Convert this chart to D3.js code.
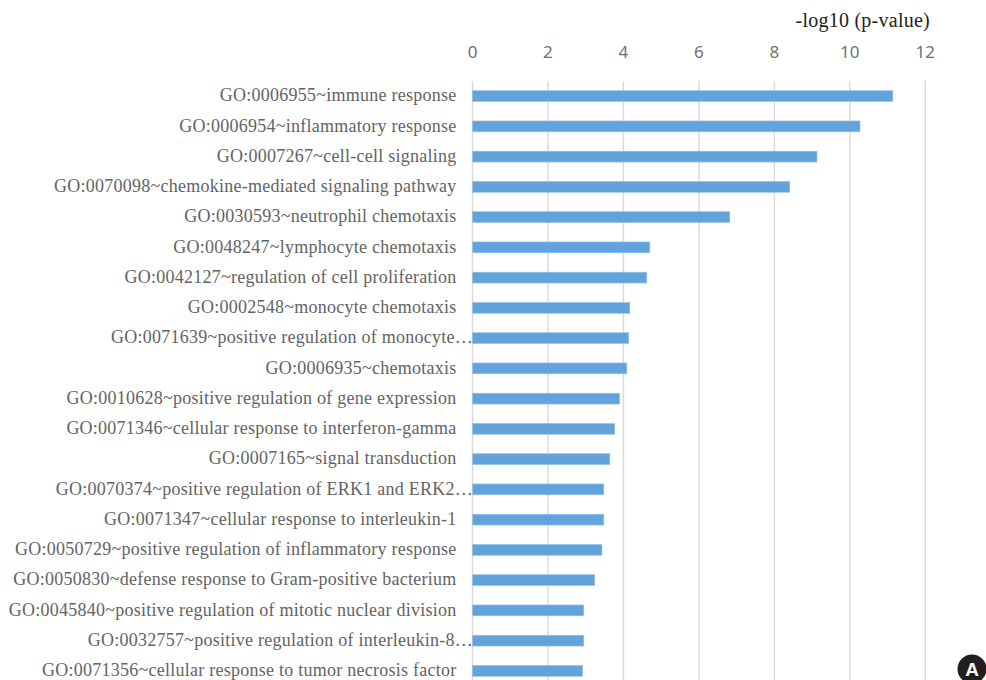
<!DOCTYPE html>
<html><head><meta charset="utf-8">
<script src="https://cdn.jsdelivr.net/npm/d3@7"></script>
<style>html,body{margin:0;padding:0;background:#fff;overflow:hidden}svg{display:block}</style>
</head><body><svg id="c" width="986" height="680"></svg>
<script>
const categories = [
"GO:0006955~immune response","GO:0006954~inflammatory response","GO:0007267~cell-cell signaling",
"GO:0070098~chemokine-mediated signaling pathway","GO:0030593~neutrophil chemotaxis","GO:0048247~lymphocyte chemotaxis",
"GO:0042127~regulation of cell proliferation","GO:0002548~monocyte chemotaxis","GO:0071639~positive regulation of monocyte…",
"GO:0006935~chemotaxis","GO:0010628~positive regulation of gene expression","GO:0071346~cellular response to interferon-gamma",
"GO:0007165~signal transduction","GO:0070374~positive regulation of ERK1 and ERK2…","GO:0071347~cellular response to interleukin-1",
"GO:0050729~positive regulation of inflammatory response","GO:0050830~defense response to Gram-positive bacterium",
"GO:0045840~positive regulation of mitotic nuclear division","GO:0032757~positive regulation of interleukin-8…",
"GO:0071356~cellular response to tumor necrosis factor"];
const values = [11.14,10.27,9.13,8.41,6.82,4.70,4.62,4.17,4.14,4.09,3.90,3.77,3.64,3.48,3.48,3.43,3.24,2.95,2.95,2.92];
const ticks = [0,2,4,6,8,10,12];
const axisTitle = "-log10 (p-value)";
const svg = d3.select("#c");
const x = d3.scaleLinear().domain([0,12]).range([472.5,925.3]);
const y = d3.scaleBand().domain(categories).range([81,686]).paddingInner(0.64).paddingOuter(0.32);
svg.append("g").selectAll("line").data(ticks).join("line")
 .attr("x1",d=>x(d)).attr("x2",d=>x(d)).attr("y1",81).attr("y2",680)
 .attr("stroke","#d9d9d9").attr("stroke-width",1.4);
svg.append("g").selectAll("rect").data(values).join("rect")
 .attr("x",x(0)).attr("y",(d,i)=>y(categories[i])).attr("width",d=>x(d)-x(0)).attr("height",y.bandwidth())
 .attr("fill","#62a3dc").attr("stroke","#9cc4e8").attr("stroke-width",0.6);
const ax = svg.append("g").attr("transform","translate(-0.5,58)").call(d3.axisTop(x).tickValues(ticks).tickSize(0).tickPadding(0));
ax.select(".domain").remove();
ax.selectAll("text").attr("font-family","'Noto Sans'").attr("font-weight",400).attr("font-size",17).attr("fill","#707070").attr("y",0);
svg.append("g").selectAll("text").data(categories).join("text")
 .attr("x",d=>d.endsWith("…")?473:456.5).attr("y",(d,i)=>y(d)+y.bandwidth()/2+5.3)
 .attr("text-anchor","end").attr("font-family","'Liberation Serif'").attr("font-size",18).attr("letter-spacing",0.25).attr("fill","#636363").text(d=>d);
svg.append("text").attr("x",930).attr("y",27).attr("text-anchor","end").attr("font-family","'Liberation Serif'").attr("font-size",20).attr("letter-spacing",0.25).attr("fill","#222").text(axisTitle);
svg.append("circle").attr("cx",972).attr("cy",669).attr("r",14.5).attr("fill","#231f20");
svg.append("text").attr("x",972).attr("y",676).attr("text-anchor","middle").attr("font-family","'Liberation Sans'").attr("font-weight",700).attr("font-size",19).attr("fill","#fff").text("A");
</script></body></html>
